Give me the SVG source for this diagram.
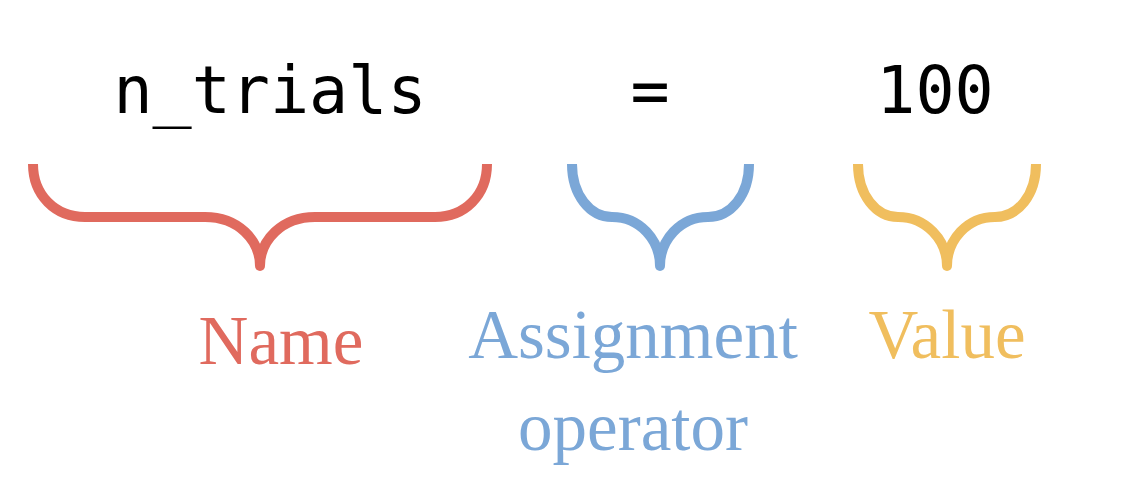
<svg xmlns="http://www.w3.org/2000/svg" width="1148" height="490" viewBox="0 0 1148 490">
<style>
.code{font-family:"DejaVu Sans Mono","Liberation Mono",monospace;font-size:65px;fill:#000;text-anchor:middle}
.lbl{font-family:"Liberation Serif","DejaVu Serif",serif;font-size:69px;text-anchor:middle}
.brace{fill:none;stroke-width:10;stroke-linecap:butt;stroke-linejoin:round}
</style>
<rect width="1148" height="490" fill="#fff"/>
<g id="code">
<text class="code" x="270" y="113">n_trials</text>
<text class="code" x="650" y="113">=</text>
<text class="code" x="935" y="113">100</text>
</g>
<g id="connectors">
<path class="brace" stroke="#E06A5E" d="M33,164 C33,195 55,217 85,217 L205,217 C238,217 260,240 260,266 M487,164 C487,195 465,217 435,217 L315,217 C282,217 260,240 260,266"/>
<path class="brace" stroke="#7BA7D7" d="M572,164 C572,195 590,217 612,217 C640,217 660,240 660,266 M749,164 C749,195 731,217 708,217 C680,217 660,240 660,266"/>
<path class="brace" stroke="#F0BE5E" d="M858,164 C858,195 876,217 898,217 C926,217 947,240 947,266 M1036,164 C1036,195 1018,217 995,217 C967,217 947,240 947,266"/>
<circle cx="260" cy="266" r="5" fill="#E06A5E"/>
<circle cx="660" cy="266" r="5" fill="#7BA7D7"/>
<circle cx="947" cy="266" r="5" fill="#F0BE5E"/>
</g>
<g id="name"><text class="lbl" x="281" y="364" fill="#E06A5E">Name</text></g>
<g id="assignment"><text class="lbl" x="633" y="358" fill="#7BA7D7">Assignment<tspan x="633" y="450">operator</tspan></text></g>
<g id="value"><text class="lbl" x="947" y="358" fill="#F0BE5E">Value</text></g>
</svg>
